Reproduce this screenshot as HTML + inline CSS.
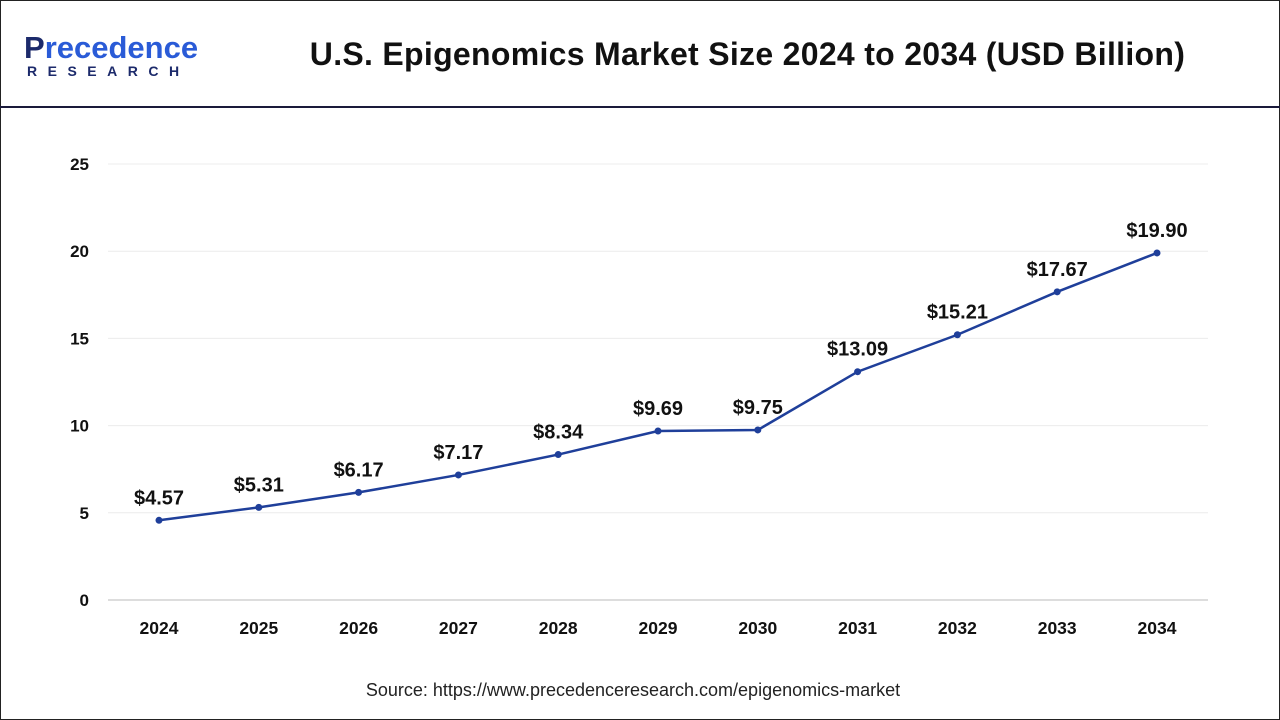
<!DOCTYPE html>
<html><head><meta charset="utf-8"><style>
body{margin:0;width:1280px;height:720px;background:#fff;font-family:"Liberation Sans",sans-serif;overflow:hidden}
#frame{position:absolute;left:0;top:0;width:1278px;height:718px;border:1px solid #222}
#hdr{position:absolute;left:0;top:106px;width:1280px;height:2px;background:#1a1a3a}
#title{position:absolute;left:300px;width:895px;top:36px;text-align:center;font-weight:bold;font-size:32px;letter-spacing:0.3px;color:#111}
#logo1{position:absolute;left:24px;top:30px;font-size:31px;font-weight:bold;color:#1c2a6b;letter-spacing:0px}
#logo1 span{color:#2a5bd7}
#logo2{position:absolute;left:27px;top:63px;font-size:14px;font-weight:bold;color:#1c2a6b;letter-spacing:10.5px}
#src{position:absolute;left:0;width:1266px;top:680px;text-align:center;font-size:18px;color:#222}
</style></head><body>
<div id="frame"></div>
<div id="logo1">P<span>recedence</span></div>
<div id="logo2">RESEARCH</div>
<div id="title">U.S. Epigenomics Market Size 2024 to 2034 (USD Billion)</div>
<div id="hdr"></div>
<svg id="chart" width="1280" height="720" style="position:absolute;left:0;top:0"></svg>
<div id="src">Source: https://www.precedenceresearch.com/epigenomics-market</div>
<script>
const categories=["2024","2025","2026","2027","2028","2029","2030","2031","2032","2033","2034"];
const values=[4.57,5.31,6.17,7.17,8.34,9.69,9.75,13.09,15.21,17.67,19.90];
const labels=["$4.57","$5.31","$6.17","$7.17","$8.34","$9.69","$9.75","$13.09","$15.21","$17.67","$19.90"];
const yTicks=[0,5,10,15,20,25];
const NS="http://www.w3.org/2000/svg";
const svg=document.getElementById('chart');
const x=i=>159+i*99.8;
const y=v=>600-v*17.44;
function mk(t,a){const e=document.createElementNS(NS,t);for(const k in a)e.setAttribute(k,a[k]);svg.appendChild(e);return e;}
yTicks.forEach(t=>{
  const g=mk('line',{x1:108,x2:1208,y1:y(t),y2:y(t),stroke:t===0?'#bbb':'#ececec','stroke-width':1});
  
  
  const l=mk('text',{x:89,y:y(t)+6,'text-anchor':'end','font-size':17,'font-weight':'bold',fill:'#111','font-family':'Liberation Sans'});
  l.textContent=t;
  
  
});
categories.forEach((c,i)=>{
  const l=mk('text',{x:x(i),y:634,'text-anchor':'middle','font-size':17.5,'font-weight':'bold',fill:'#111','font-family':'Liberation Sans'});
  l.textContent=c;
  
  
});
const p=mk('polyline',{points:values.map((v,i)=>x(i)+','+y(v)).join(' '),fill:'none',stroke:'#1f3f9a','stroke-width':2.5});


values.forEach((v,i)=>{
  const c=mk('circle',{cx:x(i),cy:y(v),r:3.5,fill:'#1f3f9a'});
  
  
  const t=mk('text',{x:x(i),y:y(v)-16,'text-anchor':'middle','font-size':20,'font-weight':'bold',fill:'#111','font-family':'Liberation Sans'});
  t.textContent=labels[i];
  
  
});
</script>
</body></html>
